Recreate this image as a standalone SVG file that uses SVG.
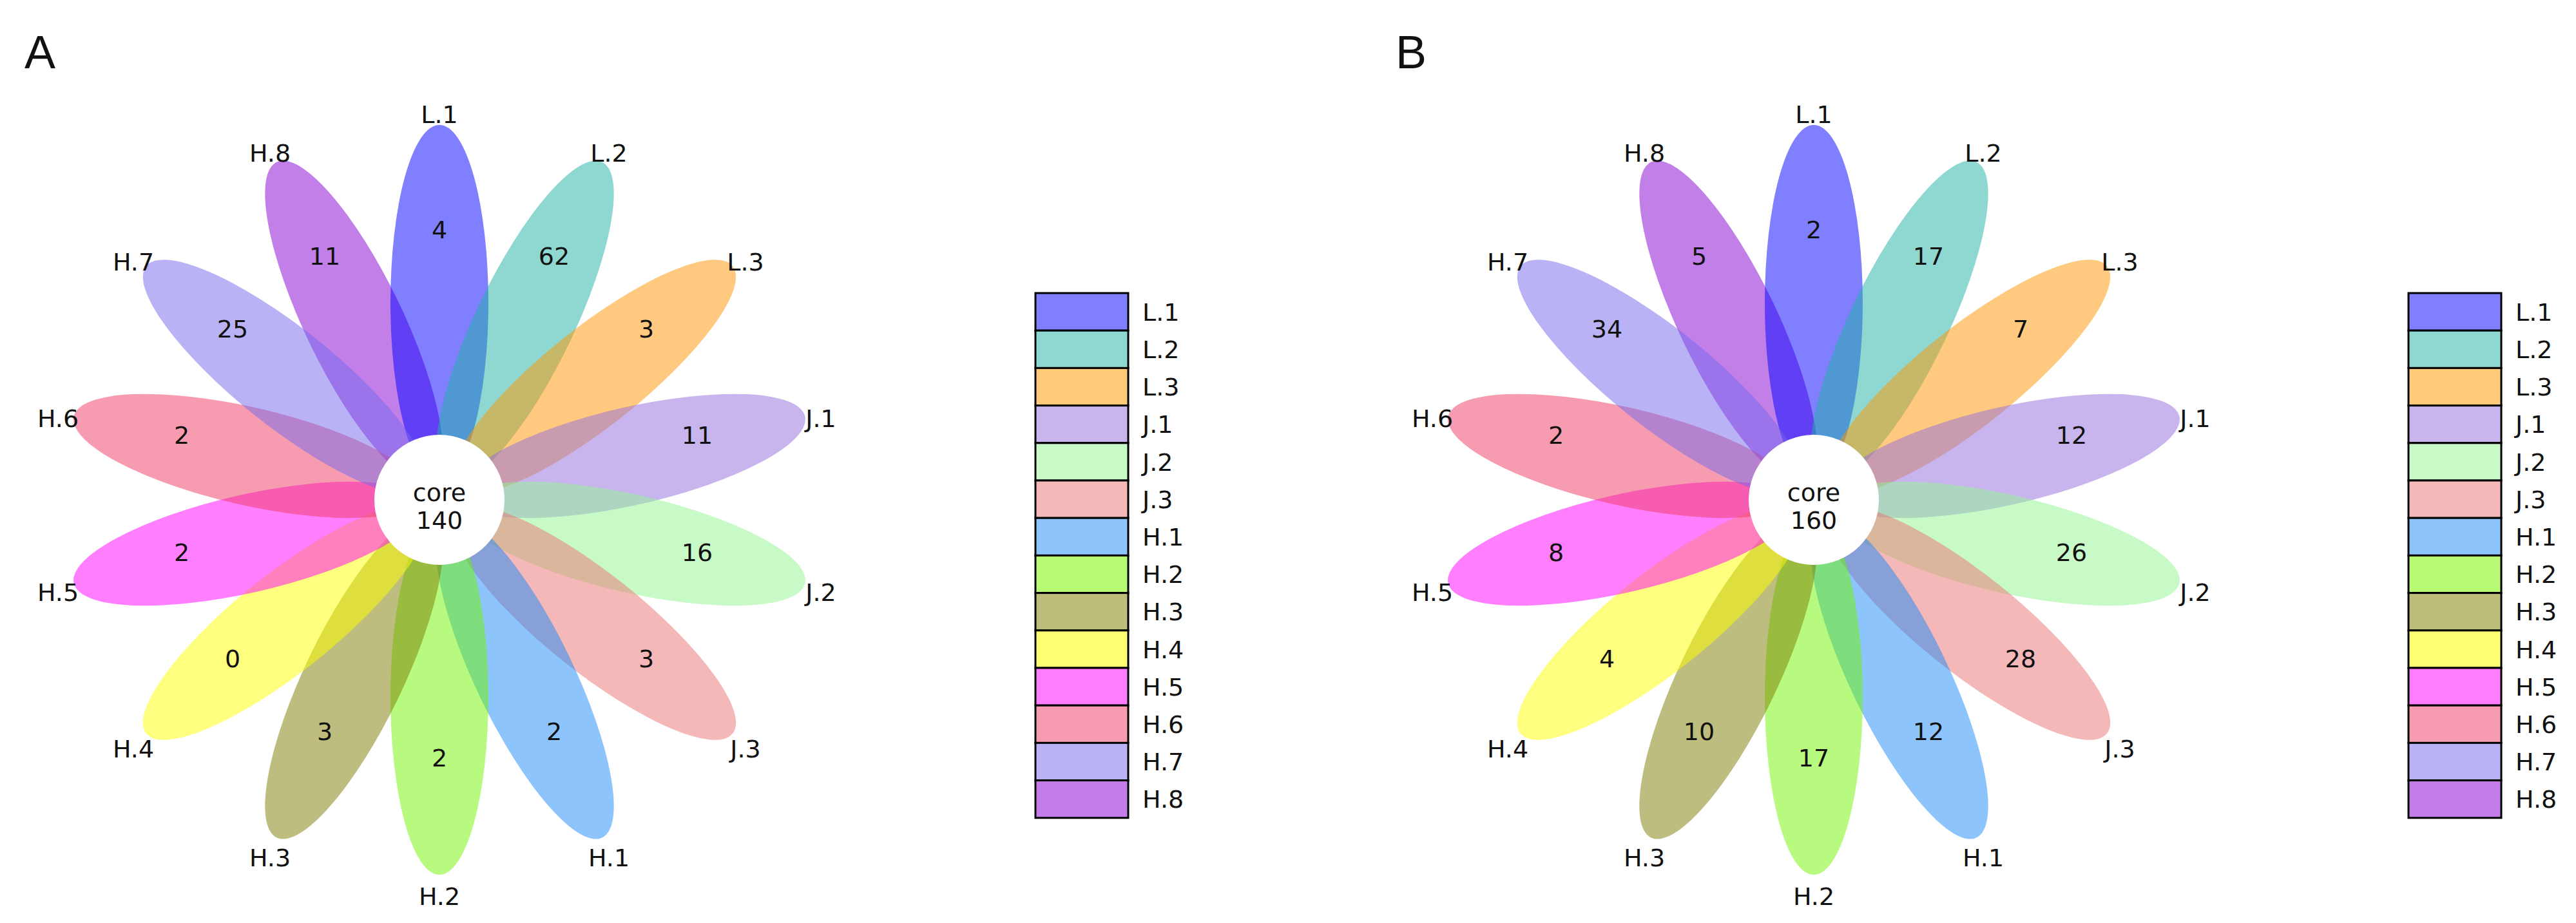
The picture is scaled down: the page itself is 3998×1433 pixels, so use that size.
<svg xmlns="http://www.w3.org/2000/svg" width="3998" height="1433" viewBox="0 0 3998 1433">
<style>
text{font-family:"DejaVu Sans","Liberation Sans",sans-serif;fill:#111;}
.t{font-size:38px;text-anchor:middle;}
.n{font-size:38px;text-anchor:middle;}
.lg{font-size:38px;}
.p{font-family:"Liberation Sans",Arial,sans-serif;font-size:72px;}
.pet{opacity:0.5;}
.lr{stroke:#000;stroke-width:3;}
</style>
<defs>
<ellipse id="pe" cx="306" cy="0" rx="276" ry="76"/>
<g id="petals">
<use href="#pe" class="pet" fill="#8500d1" transform="rotate(244.29)"/>
<use href="#pe" class="pet" fill="#0000ff" transform="rotate(-90)"/>
<use href="#pe" class="pet" fill="#1fb1a5" transform="rotate(-64.29)"/>
<use href="#pe" class="pet" fill="#ff9500" transform="rotate(-38.57)"/>
<use href="#pe" class="pet" fill="#936bdd" transform="rotate(-12.86)"/>
<use href="#pe" class="pet" fill="#91f591" transform="rotate(12.86)"/>
<use href="#pe" class="pet" fill="#eb7171" transform="rotate(38.57)"/>
<use href="#pe" class="pet" fill="#1989f7" transform="rotate(64.29)"/>
<use href="#pe" class="pet" fill="#6ff500" transform="rotate(90)"/>
<use href="#pe" class="pet" fill="#7b7b00" transform="rotate(115.71)"/>
<use href="#pe" class="pet" fill="#ffff00" transform="rotate(141.43)"/>
<use href="#pe" class="pet" fill="#ff00ff" transform="rotate(167.14)"/>
<use href="#pe" class="pet" fill="#ef3961" transform="rotate(192.86)"/>
<use href="#pe" class="pet" fill="#7367eb" transform="rotate(218.57)"/>
<circle cx="0" cy="0" r="101" fill="#fff"/>
<g class="t">
<text x="0" y="-585">L.1</text>
<text x="263" y="-525">L.2</text>
<text x="475" y="-356">L.3</text>
<text x="592" y="-113">J.1</text>
<text x="592" y="157">J.2</text>
<text x="475" y="400">J.3</text>
<text x="263" y="569">H.1</text>
<text x="0" y="629">H.2</text>
<text x="-263" y="569">H.3</text>
<text x="-475" y="400">H.4</text>
<text x="-592" y="157">H.5</text>
<text x="-592" y="-113">H.6</text>
<text x="-475" y="-356">H.7</text>
<text x="-263" y="-525">H.8</text>
</g>
</g>
<g id="legend">
<rect class="lr" x="0" y="0" width="144" height="58.2" fill="#7f7fff"/>
<rect class="lr" x="0" y="58.2" width="144" height="58.2" fill="#8fd8d2"/>
<rect class="lr" x="0" y="116.4" width="144" height="58.2" fill="#ffca7a"/>
<rect class="lr" x="0" y="174.6" width="144" height="58.2" fill="#c9b5ee"/>
<rect class="lr" x="0" y="232.8" width="144" height="58.2" fill="#c8fac8"/>
<rect class="lr" x="0" y="291" width="144" height="58.2" fill="#f5b8b8"/>
<rect class="lr" x="0" y="349.2" width="144" height="58.2" fill="#8cc4fb"/>
<rect class="lr" x="0" y="407.4" width="144" height="58.2" fill="#b7fa74"/>
<rect class="lr" x="0" y="465.6" width="144" height="58.2" fill="#bdbd7c"/>
<rect class="lr" x="0" y="523.8" width="144" height="58.2" fill="#ffff73"/>
<rect class="lr" x="0" y="582" width="144" height="58.2" fill="#ff7cff"/>
<rect class="lr" x="0" y="640.2" width="144" height="58.2" fill="#f79cb0"/>
<rect class="lr" x="0" y="698.4" width="144" height="58.2" fill="#b9b3f5"/>
<rect class="lr" x="0" y="756.6" width="144" height="58.2" fill="#c47de8"/>
<g class="lg">
<text x="166" y="43">L.1</text>
<text x="166" y="101">L.2</text>
<text x="166" y="159">L.3</text>
<text x="166" y="217">J.1</text>
<text x="166" y="276">J.2</text>
<text x="166" y="334">J.3</text>
<text x="166" y="392">H.1</text>
<text x="166" y="450">H.2</text>
<text x="166" y="508">H.3</text>
<text x="166" y="567">H.4</text>
<text x="166" y="625">H.5</text>
<text x="166" y="683">H.6</text>
<text x="166" y="741">H.7</text>
<text x="166" y="799">H.8</text>
</g>
</g>
</defs>
<rect width="3998" height="1433" fill="#fff"/>
<g id="panelA">
<text class="p" x="38" y="106">A</text>
<g id="flowerA" transform="translate(682,776)">
<use href="#petals"/>
<g class="n">
<text x="0" y="-406">4</text>
<text x="178" y="-365">62</text>
<text x="321" y="-252">3</text>
<text x="400" y="-87">11</text>
<text x="400" y="95">16</text>
<text x="321" y="260">3</text>
<text x="178" y="373">2</text>
<text x="0" y="414">2</text>
<text x="-178" y="373">3</text>
<text x="-321" y="260">0</text>
<text x="-400" y="95">2</text>
<text x="-400" y="-87">2</text>
<text x="-321" y="-252">25</text>
<text x="-178" y="-365">11</text>
<text x="0" y="2">core</text>
<text x="0" y="45">140</text>
</g>
</g>
<g id="legendA" transform="translate(1607,455)"><use href="#legend"/></g>
</g>
<g id="panelB">
<text class="p" x="2166" y="106">B</text>
<g id="flowerB" transform="translate(2815,776)">
<use href="#petals"/>
<g class="n">
<text x="0" y="-406">2</text>
<text x="178" y="-365">17</text>
<text x="321" y="-252">7</text>
<text x="400" y="-87">12</text>
<text x="400" y="95">26</text>
<text x="321" y="260">28</text>
<text x="178" y="373">12</text>
<text x="0" y="414">17</text>
<text x="-178" y="373">10</text>
<text x="-321" y="260">4</text>
<text x="-400" y="95">8</text>
<text x="-400" y="-87">2</text>
<text x="-321" y="-252">34</text>
<text x="-178" y="-365">5</text>
<text x="0" y="2">core</text>
<text x="0" y="45">160</text>
</g>
</g>
<g id="legendB" transform="translate(3738,455)"><use href="#legend"/></g>
</g>
<g id="connectors"/>
</svg>
